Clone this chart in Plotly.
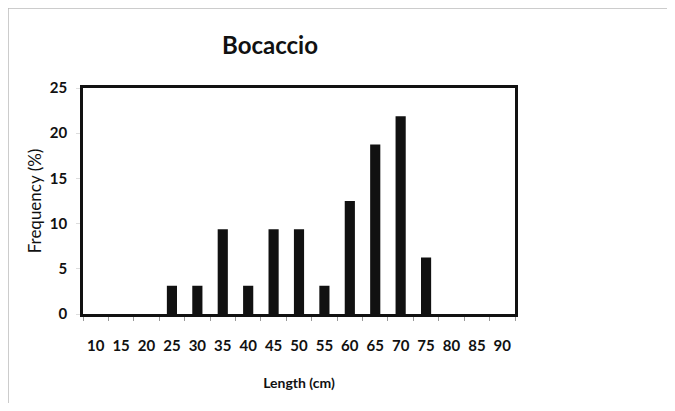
import plotly.graph_objects as go

lengths = ["10", "15", "20", "25", "30", "35", "40", "45", "50",
           "55", "60", "65", "70", "75", "80", "85", "90"]
frequency = [0, 0, 0, 3.125, 3.125, 9.375, 3.125, 9.375, 9.375,
             3.125, 12.5, 18.75, 21.875, 6.25, 0, 0, 0]
y_ticks = [0, 5, 10, 15, 20, 25]

FONT = "Lato"
W, H = 659, 395
L, R, T, B = 75, 507, 80, 306   # plot-area edges in figure pixels
PW, PH = R - L, B - T

fig = go.Figure()
fig.add_trace(go.Bar(
    x=lengths, y=frequency,
    marker=dict(color="#111111", line=dict(width=0)),
    width=0.4,
    showlegend=False,
))

fig.update_layout(
    width=W, height=H,
    margin=dict(l=L, r=W - R, t=T, b=H - B, autoexpand=False),
    paper_bgcolor="white", plot_bgcolor="white",
    font=dict(family=FONT, color="#111111"),
    title=dict(text="<b>Bocaccio</b>", x=262/W, xanchor="center",
               y=1 - 38/H, yanchor="middle",
               font=dict(family=FONT, size=24, color="#111111")),
    xaxis=dict(
        type="category", categoryorder="array", categoryarray=lengths,
        automargin=False, tickangle=0,
        tickson="boundaries", ticks="outside", ticklen=4, tickcolor="#999999",
        tickfont=dict(family=FONT, size=15, color="#111111", weight="bold"),
        ticklabelstandoff=16,
        showline=True, linecolor="#111111", linewidth=2.5, mirror=True,
        showgrid=False, zeroline=False,
        title=dict(text="<b>Length (cm)</b>", standoff=26,
                   font=dict(family=FONT, size=14, color="#111111")),
    ),
    yaxis=dict(
        range=[0, 25], tickvals=y_ticks, automargin=False,
        ticks="outside", ticklen=4, tickcolor="#dddddd",
        tickfont=dict(family=FONT, size=15, color="#111111", weight="bold"),
        ticklabelstandoff=6,
        showline=True, linecolor="#111111", linewidth=2.5, mirror=True,
        showgrid=False, zeroline=False,
        title=dict(text="Frequency (%)", standoff=4,
                   font=dict(family=FONT, size=17, color="#111111")),
    ),
    shapes=[
        dict(type="line", xref="paper", yref="paper",
             x0=-L/PW, x1=(W - L)/PW, y0=1 + T/PH, y1=1 + T/PH,
             line=dict(color="#bbbbbb", width=1.5)),
        dict(type="line", xref="paper", yref="paper",
             x0=-L/PW, x1=-L/PW, y0=1 + T/PH, y1=-(H - B)/PH,
             line=dict(color="#bbbbbb", width=1.5)),
    ],
)

fig.write_html("out.html")
